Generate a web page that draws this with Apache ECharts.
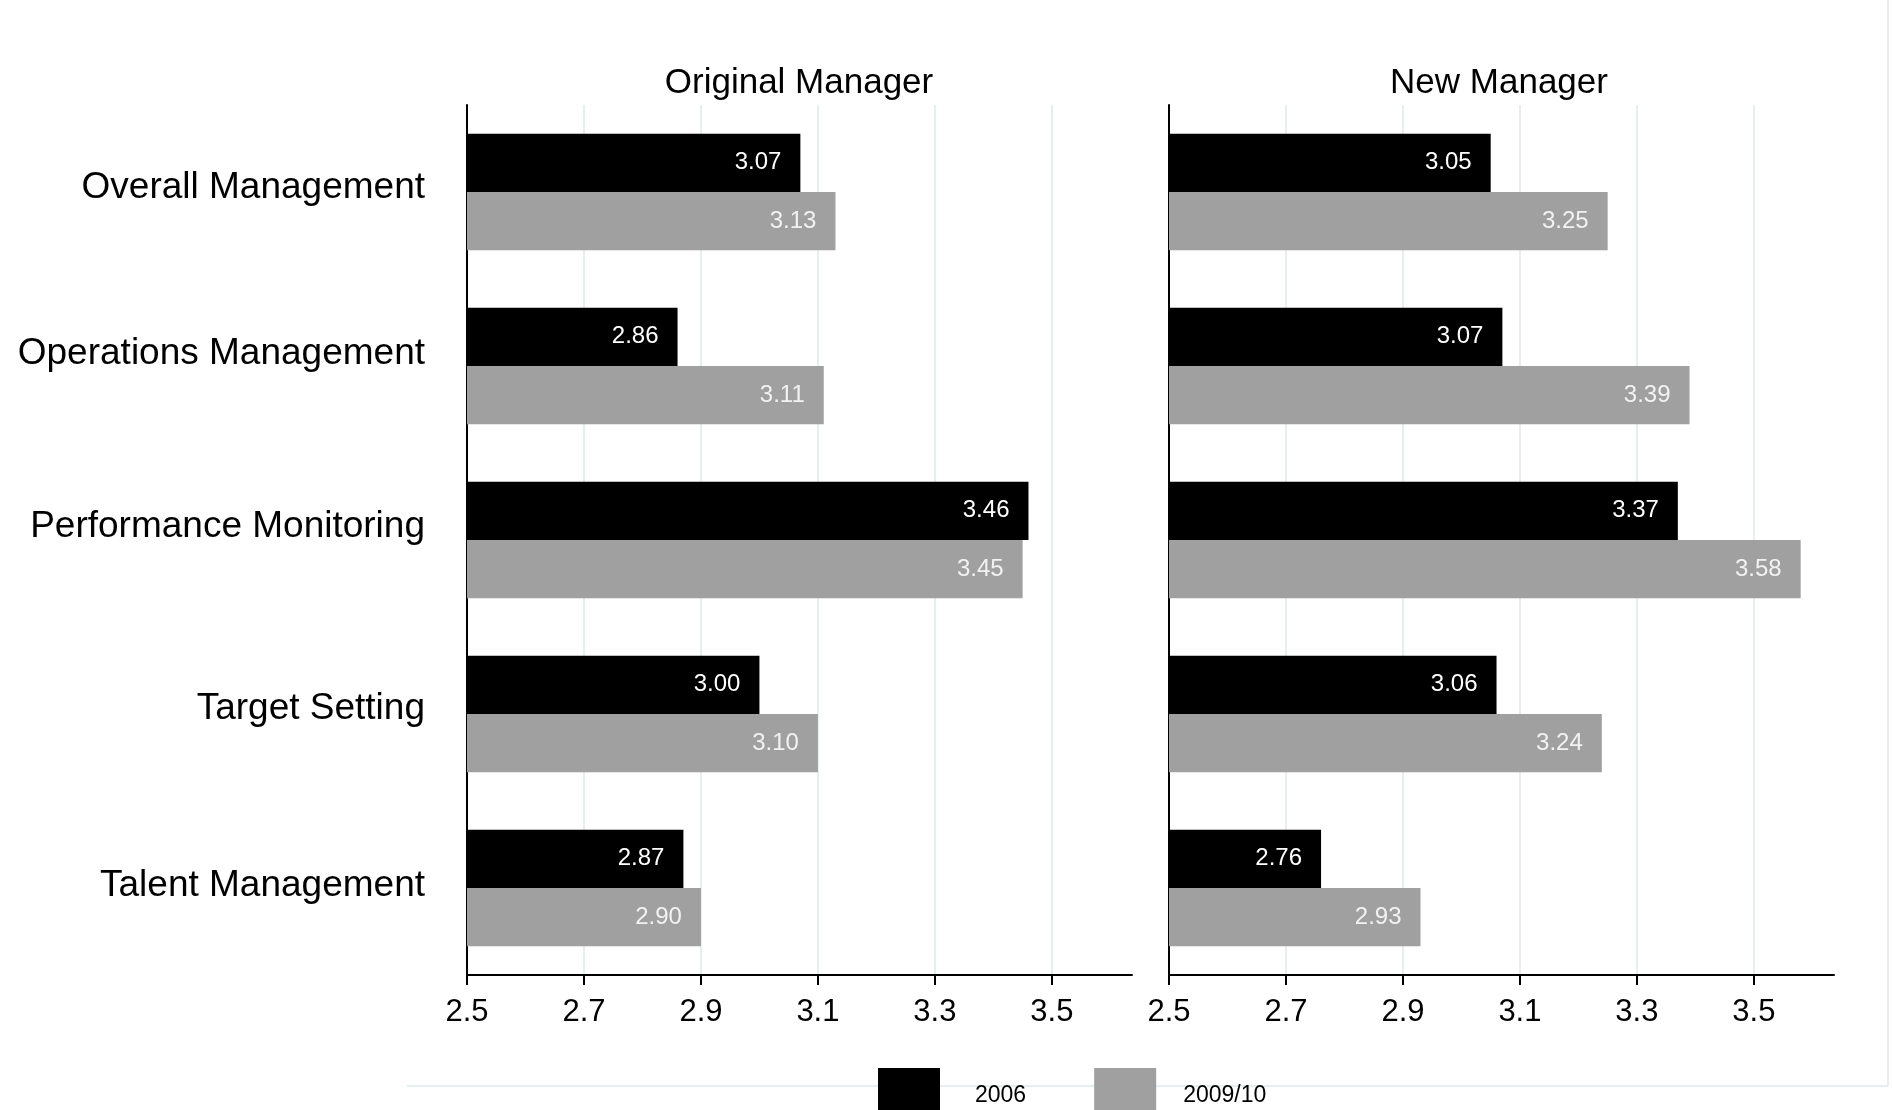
<!DOCTYPE html>
<html>
<head>
<meta charset="utf-8">
<script src="https://cdn.jsdelivr.net/npm/echarts@6/dist/echarts.min.js"></script>
<style>
html,body{margin:0;padding:0;background:#fff;}
#chart{width:1892px;height:1110px;}
</style>
</head>
<body>
<div id="chart"></div>
<script>
const categories = ['Overall Management', 'Operations Management', 'Performance Monitoring', 'Target Setting', 'Talent Management'];
const panelTitles = ['Original Manager', 'New Manager'];
const seriesNames = ['2006', '2009/10'];
const original2006 = [3.07, 2.86, 3.46, 3.00, 2.87];
const original2009 = [3.13, 3.11, 3.45, 3.10, 2.90];
const new2006 = [3.05, 3.07, 3.37, 3.06, 2.76];
const new2009 = [3.25, 3.39, 3.58, 3.24, 2.93];
const xTicks = [2.5, 2.7, 2.9, 3.1, 3.3, 3.5];
const xMin = 2.5, xMax = 3.637;

const FONT = 'Liberation Sans, Arial, sans-serif';
const BLACK = '#000000', GREY = '#a0a0a0', GRIDC = '#e6eef0';
// upward nudge (px) of each category label, as in the reference
const labelLift = [4, 12, 13, 5, 2];

const chart = echarts.init(document.getElementById('chart'), null, {renderer: 'canvas'});

const catRich = {};
labelLift.forEach((d, i) => {
  catRich['c' + i] = {fontSize: 37, color: '#000', fontFamily: FONT, padding: [0, 0, 2 * d, 0]};
});

function xAxisFor(gi) {
  return {
    type: 'value', gridIndex: gi, min: xMin, max: xMax,
    axisLine: {show: true, onZero: false, lineStyle: {color: '#000', width: 2}},
    axisTick: {show: true, length: 10, lineStyle: {color: '#000', width: 2}, customValues: xTicks},
    axisLabel: {show: true, customValues: xTicks, fontSize: 31, color: '#000', fontFamily: FONT, margin: 22,
      formatter: v => v.toFixed(1)},
    splitLine: {show: true, lineStyle: {color: GRIDC, width: 2}}
  };
}
function yAxisFor(gi, showLabels) {
  return {
    type: 'category', gridIndex: gi, data: categories, inverse: true,
    axisLine: {show: true, lineStyle: {color: '#000', width: 2}},
    axisTick: {show: false},
    axisLabel: {show: showLabels, fontSize: 37, color: '#000', fontFamily: FONT, margin: 42,
      formatter: (v, i) => '{c' + i + '|' + v + '}', rich: catRich},
    splitLine: {show: false}
  };
}
function barSeries(name, data, gi, color, labelColor) {
  return {
    type: 'bar', name: name, data: data, xAxisIndex: gi, yAxisIndex: gi,
    barGap: '0%', barCategoryGap: '33%',
    itemStyle: {color: color},
    label: {show: true, position: 'insideRight', distance: 19, color: labelColor,
      fontSize: 24, fontFamily: FONT, formatter: p => p.value.toFixed(2)},
    emphasis: {disabled: true}
  };
}

chart.setOption({
  animation: false,
  backgroundColor: '#fff',
  textStyle: {fontFamily: FONT},
  title: [
    {text: panelTitles[0], left: 794, top: 61, textAlign: 'center',
      textStyle: {fontSize: 35, fontWeight: 'normal', color: '#000', fontFamily: FONT}},
    {text: panelTitles[1], left: 1494, top: 61, textAlign: 'center',
      textStyle: {fontSize: 35, fontWeight: 'normal', color: '#000', fontFamily: FONT}}
  ],
  grid: [
    {left: 467, top: 105, width: 665, height: 870, containLabel: false},
    {left: 1169, top: 105, width: 665, height: 870, containLabel: false}
  ],
  xAxis: [xAxisFor(0), xAxisFor(1)],
  yAxis: [yAxisFor(0, true), yAxisFor(1, false)],
  legend: {
    data: seriesNames, left: 878, top: 1068, padding: 0, orient: 'horizontal',
    itemWidth: 62, itemHeight: 62, itemGap: 68, icon: 'rect',
    formatter: name => (name === seriesNames[0] ? '{a|' : '{b|') + name + '}',
    textStyle: {fontSize: 23, color: '#000', fontFamily: FONT,
      rich: {
        a: {fontSize: 23, color: '#000', fontFamily: FONT, padding: [0, 0, 6, 30]},
        b: {fontSize: 23, color: '#000', fontFamily: FONT, padding: [0, 0, 6, 22]}
      }},
    selectedMode: false
  },
  graphic: [
    {type: 'line', shape: {x1: 407, y1: 1086, x2: 1888, y2: 1086}, style: {stroke: GRIDC, lineWidth: 2}, z: -1},
    {type: 'line', shape: {x1: 1888, y1: 0, x2: 1888, y2: 1086}, style: {stroke: GRIDC, lineWidth: 2}, z: -1}
  ],
  series: [
    barSeries(seriesNames[0], original2006, 0, BLACK, '#ffffff'),
    barSeries(seriesNames[1], original2009, 0, GREY, '#f2f2f2'),
    barSeries(seriesNames[0], new2006, 1, BLACK, '#ffffff'),
    barSeries(seriesNames[1], new2009, 1, GREY, '#f2f2f2')
  ]
});
</script>
</body>
</html>
